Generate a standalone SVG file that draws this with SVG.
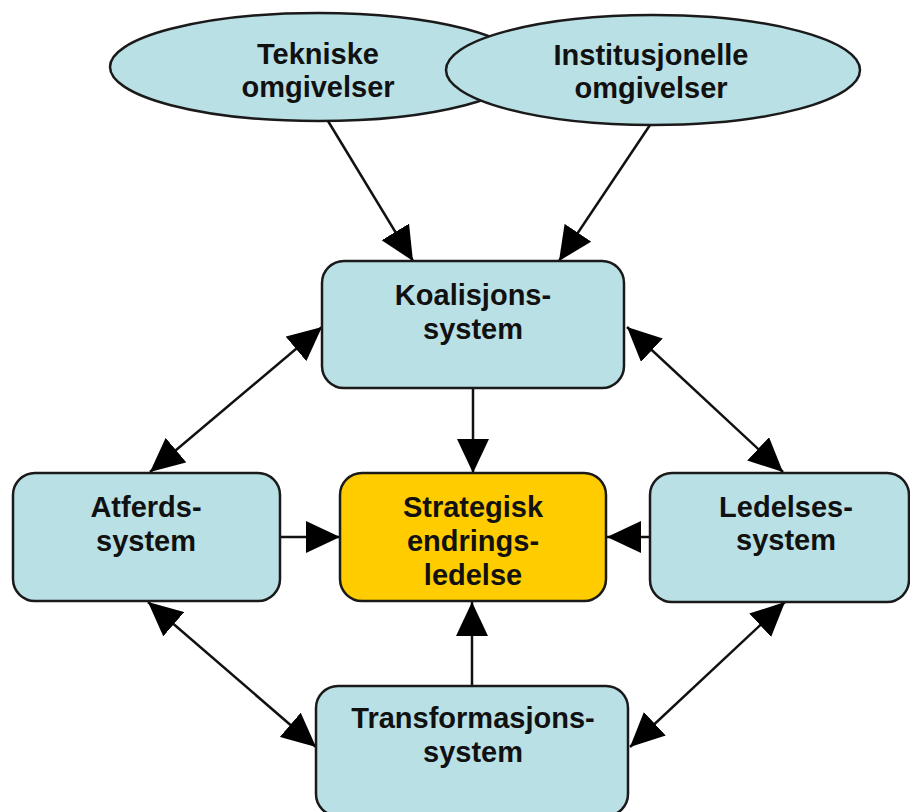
<svg xmlns="http://www.w3.org/2000/svg" width="910" height="812" viewBox="0 0 910 812">
<style>
.n{fill:#B9E0E4;stroke:#1a1a1a;stroke-width:2.5}
.y{fill:#FFCC00;stroke:#1a1a1a;stroke-width:2.5}
.t{font-family:"Liberation Sans",Arial,sans-serif;font-weight:bold;font-size:29px;fill:#111;text-anchor:middle}
.c{stroke:#111;stroke-width:2.5;fill:none}
</style>
<defs>
<marker id="ah" viewBox="0 0 34 32" refX="34" refY="16" markerWidth="34" markerHeight="32" markerUnits="userSpaceOnUse" orient="auto-start-reverse">
<path d="M0,0 L34,16 L0,32 z" fill="#000"/>
</marker>
</defs>
<rect width="910" height="812" fill="#fff"/>
<g id="tekniske">
<ellipse class="n" cx="318" cy="67" rx="208" ry="54"/>
<text class="t" x="318" y="64">Tekniske</text>
<text class="t" x="318" y="97">omgivelser</text>
</g>
<g id="institusjonelle">
<ellipse class="n" cx="653" cy="70" rx="207" ry="55"/>
<text class="t" x="651" y="65">Institusjonelle</text>
<text class="t" x="651" y="98">omgivelser</text>
</g>
<g id="connectors">
<line class="c" x1="328" y1="121" x2="413" y2="261" marker-end="url(#ah)"/>
<line class="c" x1="650" y1="125" x2="559" y2="261" marker-end="url(#ah)"/>
<line class="c" x1="322" y1="327" x2="150" y2="472" marker-start="url(#ah)" marker-end="url(#ah)"/>
<line class="c" x1="627" y1="327" x2="783" y2="472" marker-start="url(#ah)" marker-end="url(#ah)"/>
<line class="c" x1="473" y1="388" x2="473" y2="473" marker-end="url(#ah)"/>
<line class="c" x1="280" y1="537" x2="340" y2="537" marker-end="url(#ah)"/>
<line class="c" x1="650" y1="537" x2="607" y2="537" marker-end="url(#ah)"/>
<line class="c" x1="472" y1="686" x2="472" y2="602" marker-end="url(#ah)"/>
<line class="c" x1="148" y1="602" x2="316" y2="747" marker-start="url(#ah)" marker-end="url(#ah)"/>
<line class="c" x1="785" y1="602" x2="630" y2="747" marker-start="url(#ah)" marker-end="url(#ah)"/>
</g>
<g id="koalisjon">
<rect class="n" x="322" y="261" width="302" height="127" rx="22"/>
<text class="t" x="473" y="305">Koalisjons-</text>
<text class="t" x="473" y="339">system</text>
</g>
<g id="atferd">
<rect class="n" x="13" y="473" width="267" height="128" rx="22"/>
<text class="t" x="146" y="517">Atferds-</text>
<text class="t" x="146" y="551">system</text>
</g>
<g id="strategisk">
<rect class="y" x="340" y="473" width="266" height="128" rx="22"/>
<text class="t" x="473" y="517">Strategisk</text>
<text class="t" x="473" y="551">endrings-</text>
<text class="t" x="473" y="585">ledelse</text>
</g>
<g id="ledelse">
<rect class="n" x="650" y="473" width="259" height="129" rx="22"/>
<text class="t" x="786" y="517">Ledelses-</text>
<text class="t" x="786" y="550">system</text>
</g>
<g id="transformasjon">
<rect class="n" x="316" y="686" width="312" height="130" rx="22"/>
<text class="t" x="473" y="728">Transformasjons-</text>
<text class="t" x="473" y="762">system</text>
</g>
</svg>
